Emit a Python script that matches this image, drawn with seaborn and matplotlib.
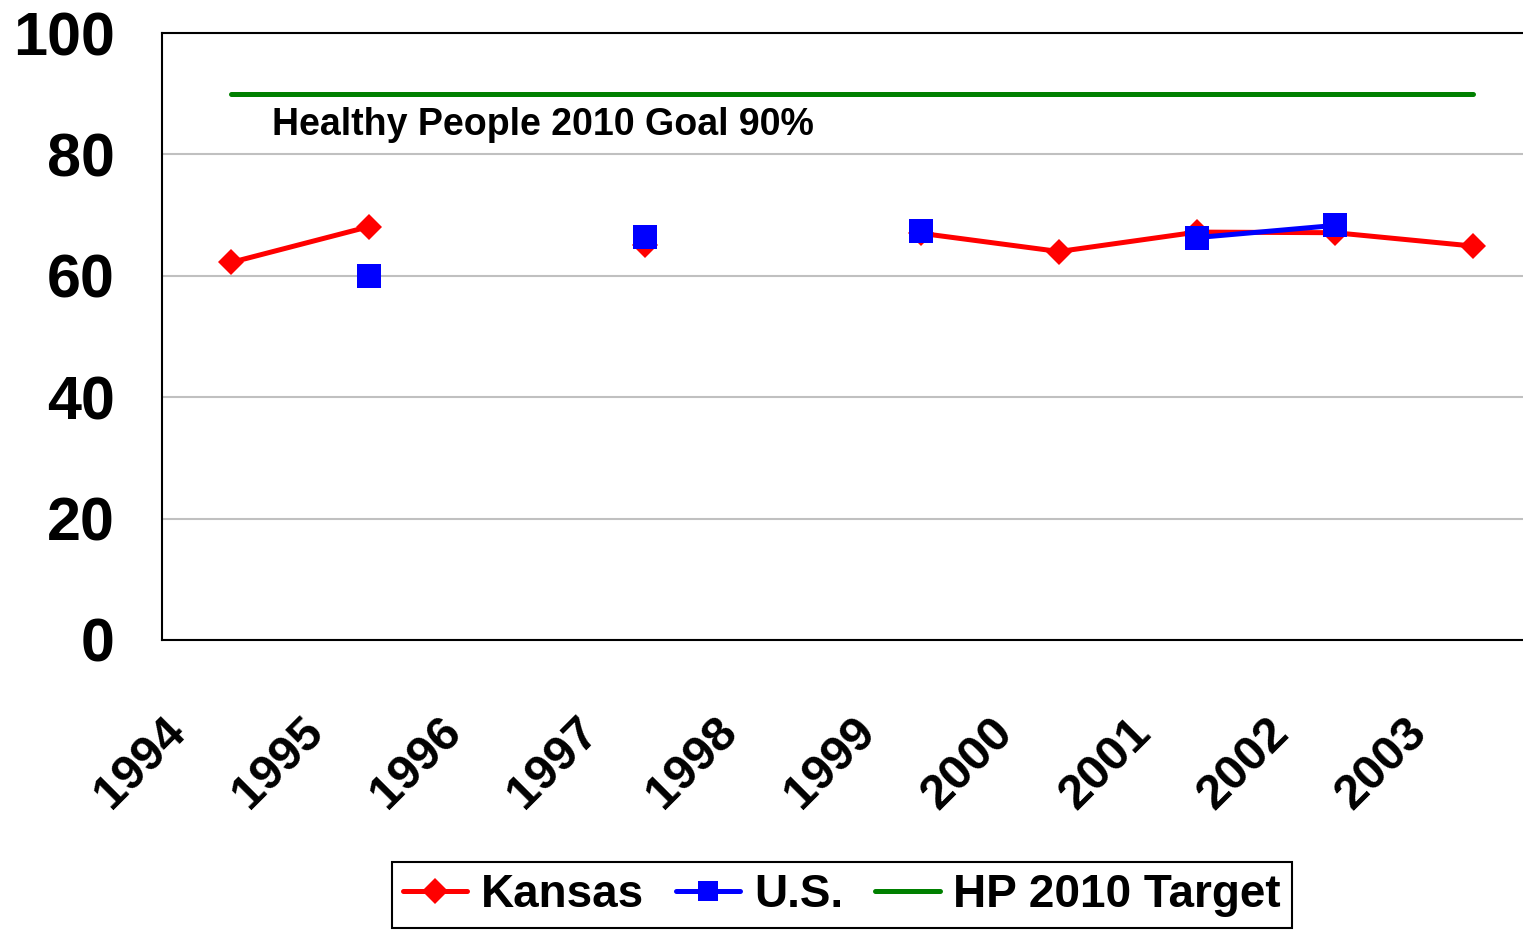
import matplotlib
matplotlib.use("Agg")
import matplotlib.pyplot as plt
from matplotlib.lines import Line2D
import seaborn as sns
import pandas as pd
import numpy as np

# Values (NaN = no survey that year)
years = ["1994", "1995", "1996", "1997", "1998", "1999", "2000", "2001", "2002", "2003"]
kansas = [62.2, 68.1, np.nan, 65.0, np.nan, 67.0, 64.0, 67.2, 67.1, 64.9]
us = [np.nan, 60.0, np.nan, 66.4, np.nan, 67.3, np.nan, 66.3, 68.3, np.nan]
hp_target = [90, 90, 90, 90, 90, 90, 90, 90, 90, 90]
goal_text = "Healthy People 2010 Goal 90%"

sns.set_style("white")
plt.rcParams["font.family"] = ["Liberation Sans", "DejaVu Sans"]
plt.rcParams["font.weight"] = "bold"
plt.rcParams["text.color"] = "black"


def segments(values):
    # split a series at its gaps so the line breaks like the original
    s = pd.Series(values, dtype=float)
    df = pd.DataFrame({"x": np.arange(len(s)), "y": s})
    df["seg"] = s.isna().cumsum()
    return df.dropna()


fig = plt.figure(figsize=(15.23, 9.33), dpi=100)
# plot area runs a little past the right edge of the picture, as in the original
ax = fig.add_axes([162 / 1523, 293 / 933, 1380 / 1523, 607 / 933])

sns.lineplot(data=segments(hp_target), x="x", y="y", units="seg", estimator=None,
             color="#008000", linewidth=3.6, ax=ax)
sns.lineplot(data=segments(kansas), x="x", y="y", units="seg", estimator=None,
             color="#FF0000", linewidth=3.6, marker="D", markersize=13,
             markeredgewidth=0, ax=ax)
sns.lineplot(data=segments(us), x="x", y="y", units="seg", estimator=None,
             color="#0000FF", linewidth=3.6, marker="s", markersize=17,
             markeredgewidth=0, ax=ax)

ax.text(0.3, 84.8, goal_text, fontsize=27, fontweight="bold", va="center", ha="left",
        color="black")

ax.set_xlim(-0.5, 9.5)
ax.set_ylim(0, 100)
ax.set_yticks(range(0, 101, 20))
ax.set_yticklabels([str(v) for v in range(0, 101, 20)], fontsize=44, fontweight="bold")
ax.set_xticks(np.arange(len(years) + 1) - 0.5)
ax.set_xticklabels(years + [""], fontsize=35, fontweight="bold", rotation=45,
                   ha="right", va="top", rotation_mode="anchor")
ax.tick_params(axis="x", direction="out", length=14, width=1.5, pad=36, colors="black")
ax.tick_params(axis="y", direction="out", length=14, width=1.5, pad=20, colors="black")
ax.set_xlabel("")
ax.set_ylabel("")

ax.grid(axis="y", color="#C0C0C0", linewidth=1.5)
ax.set_axisbelow(True)
for side in ["left", "bottom", "top"]:
    ax.spines[side].set_color("black")
    ax.spines[side].set_linewidth(1.5)
ax.spines["right"].set_visible(False)

handles = [
    Line2D([], [], color="#FF0000", linewidth=3.6, marker="D", markersize=13, markeredgewidth=0),
    Line2D([], [], color="#0000FF", linewidth=3.6, marker="s", markersize=15, markeredgewidth=0),
    Line2D([], [], color="#008000", linewidth=3.6),
]
leg = fig.legend(handles, ["Kansas", "U.S.", "HP 2010 Target"], loc="lower center",
                 bbox_to_anchor=(842 / 1523, 0.0), ncol=3, fontsize=33,
                 frameon=True, fancybox=False, edgecolor="black", framealpha=1,
                 borderpad=0.25, handlelength=1.4, handletextpad=0.3,
                 columnspacing=0.7, borderaxespad=0.1)
leg.get_frame().set_linewidth(1.5)
for t in leg.get_texts():
    t.set_fontweight("bold")
    t.set_color("black")

fig.savefig("out.png", dpi=100)
